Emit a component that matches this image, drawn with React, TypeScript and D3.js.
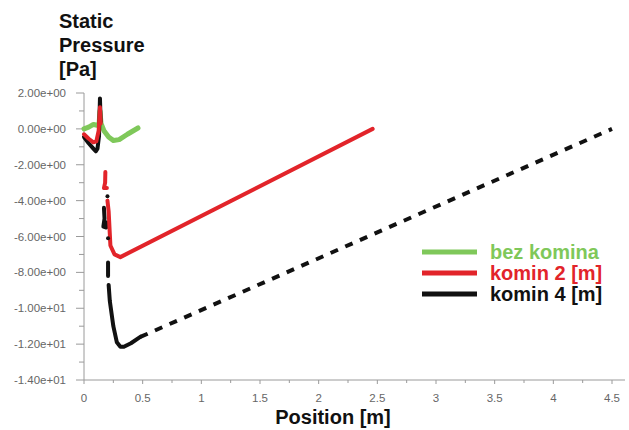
import React from 'react';
import * as d3 from 'd3';

// series: each series is a list of segments (the solver export has gaps)
const greenX = [0, 0.04, 0.08, 0.11, 0.128, 0.136, 0.145, 0.17, 0.21, 0.25, 0.3, 0.37, 0.46];
const greenY = [0.0, 0.1, 0.25, 0.2, 0.2, 1.0, 0.3, -0.1, -0.45, -0.65, -0.6, -0.3, 0.05];

const red1X = [0, 0.04, 0.08, 0.105, 0.125, 0.136, 0.142];
const red1Y = [-0.3, -0.55, -0.75, -0.7, -0.1, 1.2, 0.3];
const red2X = [0.182, 0.18, 0.17, 0.195];
const red2Y = [-2.4, -3.0, -3.3, -3.3];
const red3X = [0.2, 0.21, 0.225, 0.26, 0.31, 2.46];
const red3Y = [-4.0, -4.6, -6.5, -7.0, -7.15, 0.0];

const black1X = [0, 0.04, 0.08, 0.1, 0.115, 0.128, 0.136, 0.142];
const black1Y = [-0.45, -0.8, -1.1, -1.25, -1.1, -0.4, 1.7, 0.4];
const black2X = [0.17, 0.175, 0.165, 0.19, 0.19];
const black2Y = [-4.4, -5.0, -5.45, -5.5, -5.2];
const black3X = [0.205, 0.205];
const black3Y = [-7.45, -8.2];
const black4X = [0.21, 0.22, 0.25, 0.28, 0.31, 0.34, 0.4, 0.48];
const black4Y = [-8.7, -9.6, -11.0, -11.9, -12.15, -12.15, -11.95, -11.6];
const blackDashX = [0.48, 4.5];
const blackDashY = [-11.6, 0.0];
const blackDotsX = [0.205, 0.2];
const blackDotsY = [-6.1, -3.75];

const xTicks = [0, 0.5, 1, 1.5, 2, 2.5, 3, 3.5, 4, 4.5];
const xTickLabels = ['0', '0.5', '1', '1.5', '2', '2.5', '3', '3.5', '4', '4.5'];
const yTicks = [2, 0, -2, -4, -6, -8, -10, -12, -14];
const yTickLabels = ['2.00e+00', '0.00e+00', '-2.00e+00', '-4.00e+00', '-6.00e+00', '-8.00e+00', '-1.00e+01', '-1.20e+01', '-1.40e+01'];

const legendNames = ['bez komina', 'komin 2 [m]', 'komin 4 [m]'];
const legendColors = ['#7fc85a', '#e2242a', '#111111'];

export default function App() {
  const width = 629, height = 430;
  const x = d3.scaleLinear().domain([0, 4.5]).range([84, 612]);
  const y = d3.scaleLinear().domain([-14, 2]).range([380, 93]);

  const line = d3.line<[number, number]>().x(d => x(d[0])).y(d => y(d[1]));
  const pts = (xs: number[], ys: number[]) => xs.map((v, i) => [v, ys[i]] as [number, number]);

  const minorX = d3.range(0.25, 4.5, 0.5);
  const minorY = d3.range(-13, 2, 2);
  const axisColor = '#9a9a9a';
  const font = 'Liberation Sans, Arial, sans-serif';

  return (
    <svg width={width} height={height} style={{ position: 'absolute', left: 0, top: 0, background: '#fff' }}>
      {/* title */}
      <text x={59} y={28} fontFamily={font} fontWeight="bold" fontSize={20} fill="#111">Static</text>
      <text x={59} y={52} fontFamily={font} fontWeight="bold" fontSize={20} fill="#111">Pressure</text>
      <text x={59} y={76} fontFamily={font} fontWeight="bold" fontSize={20} fill="#111">[Pa]</text>

      {/* y axis */}
      <line x1={x(0)} x2={x(0)} y1={y(2)} y2={y(-14)} stroke={axisColor} strokeWidth={1} />
      {yTicks.map((t, i) => (
        <g key={'y' + t}>
          <line x1={x(0) - 8} x2={x(0)} y1={y(t)} y2={y(t)} stroke={axisColor} />
          <text x={66} y={y(t) + 4} textAnchor="end" fontFamily={font} fontSize={11.5} fill="#666">{yTickLabels[i]}</text>
        </g>
      ))}
      {minorY.map(t => (
        <line key={'my' + t} x1={x(0) - 5} x2={x(0)} y1={y(t)} y2={y(t)} stroke={axisColor} />
      ))}

      {/* x axis */}
      <line x1={x(0)} x2={625} y1={y(-14)} y2={y(-14)} stroke={axisColor} strokeWidth={1} />
      {xTicks.map((t, i) => (
        <g key={'x' + t}>
          <line x1={x(t)} x2={x(t)} y1={y(-14)} y2={y(-14) + 4} stroke={axisColor} />
          <text x={x(t)} y={y(-14) + 22} textAnchor="middle" fontFamily={font} fontSize={11.5} fill="#666">{xTickLabels[i]}</text>
        </g>
      ))}
      {minorX.map(t => (
        <line key={'mx' + t} x1={x(t)} x2={x(t)} y1={y(-14)} y2={y(-14) + 3} stroke={axisColor} />
      ))}
      <text x={333} y={424} textAnchor="middle" fontFamily={font} fontWeight="bold" fontSize={20} fill="#111">Position [m]</text>

      {/* series */}
      <g fill="none" strokeLinecap="round" strokeLinejoin="round">
        <path d={line(pts(greenX, greenY)) || ''} stroke={legendColors[0]} strokeWidth={5} />
        <path d={line(pts(black1X, black1Y)) || ''} stroke={legendColors[2]} strokeWidth={4} />
        <path d={line(pts(red1X, red1Y)) || ''} stroke={legendColors[1]} strokeWidth={4} />
        <path d={line(pts(red2X, red2Y)) || ''} stroke={legendColors[1]} strokeWidth={4} />
        <path d={line(pts(black2X, black2Y)) || ''} stroke={legendColors[2]} strokeWidth={4} />
        <path d={line(pts(black3X, black3Y)) || ''} stroke={legendColors[2]} strokeWidth={4} />
        <path d={line(pts(black4X, black4Y)) || ''} stroke={legendColors[2]} strokeWidth={4} />
        <path d={line(pts(blackDashX, blackDashY)) || ''} stroke={legendColors[2]} strokeWidth={4} strokeDasharray="8 8" strokeLinecap="butt" />
        <path d={line(pts(red3X, red3Y)) || ''} stroke={legendColors[1]} strokeWidth={4} />
      </g>
      {pts(blackDotsX, blackDotsY).map((p, i) => (
        <circle key={'d' + i} cx={x(p[0])} cy={y(p[1])} r={2} fill={legendColors[2]} />
      ))}

      {/* legend */}
      {legendNames.map((n, i) => (
        <g key={n}>
          <line x1={422} x2={477} y1={252 + i * 21} y2={252 + i * 21} stroke={legendColors[i]} strokeWidth={5} />
          <text x={490} y={259 + i * 21} fontFamily={font} fontWeight="bold" fontSize={20} fill={legendColors[i]}>{n}</text>
        </g>
      ))}
    </svg>
  );
}
